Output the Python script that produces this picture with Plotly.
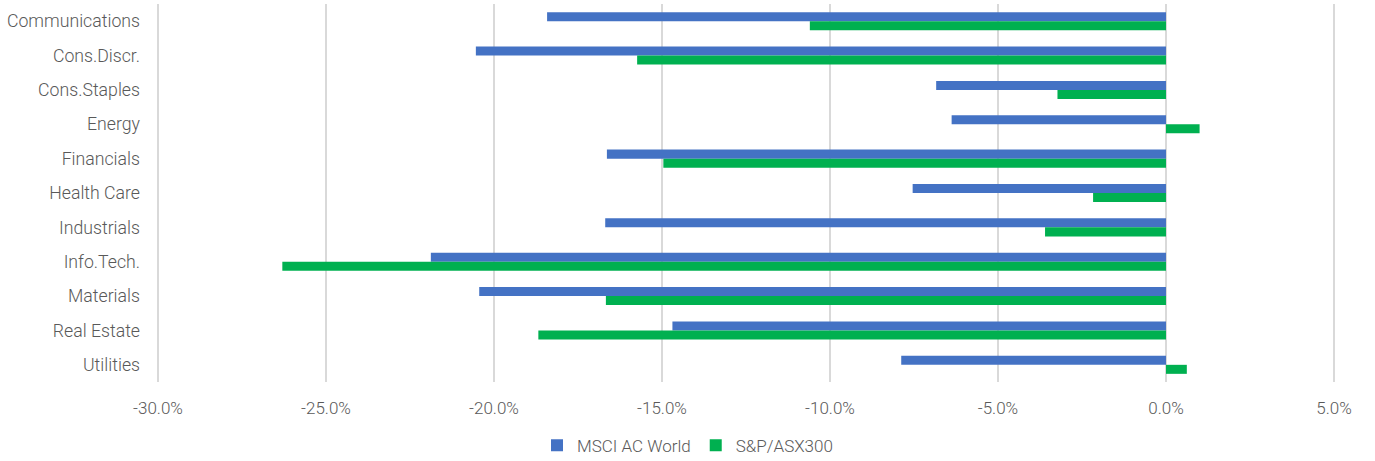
import plotly.graph_objects as go

# Sector returns (%), MSCI AC World vs S&P/ASX300
sectors = [
    "Communications", "Cons.Discr.", "Cons.Staples", "Energy", "Financials",
    "Health Care", "Industrials", "Info.Tech.", "Materials", "Real Estate", "Utilities",
]
msci_ac_world = [-18.42, -20.54, -6.84, -6.38, -16.64, -7.54, -16.69, -21.88, -20.44, -14.69, -7.88]
sp_asx300 = [-10.60, -15.74, -3.23, 1.00, -14.96, -2.17, -3.60, -26.30, -16.67, -18.68, 0.62]

x_ticks = [-30, -25, -20, -15, -10, -5, 0, 5]
x_tick_text = ["-30.0%", "-25.0%", "-20.0%", "-15.0%", "-10.0%", "-5.0%", "0.0%", "5.0%"]

text_color = "#595959"
font_family = "Roboto"

fig = go.Figure()
fig.add_trace(go.Bar(
    y=sectors, x=msci_ac_world, orientation="h", name="MSCI AC World",
    marker=dict(color="#4472C4", line=dict(width=0)),
))
fig.add_trace(go.Bar(
    y=sectors, x=sp_asx300, orientation="h", name="S&P/ASX300",
    marker=dict(color="#00B050", line=dict(width=0)),
))

fig.update_layout(
    width=1375, height=461,
    margin=dict(l=157, r=40, t=4, b=79),
    paper_bgcolor="white", plot_bgcolor="white",
    barmode="group", bargap=0.475, bargroupgap=0,
    font=dict(family=font_family, size=17, color=text_color, weight=300),
    showlegend=True,
    legend=dict(
        orientation="h", xref="container", yref="container",
        x=0.5, xanchor="center", y=0.033, yanchor="middle",
        font=dict(family=font_family, size=17, color=text_color, weight=300),
        itemwidth=30, traceorder="normal",
    ),
    xaxis=dict(
        range=[-30.03, 5.03], tickvals=x_ticks, ticktext=x_tick_text,
        showgrid=True, gridcolor="#D9D9D9", gridwidth=2,
        zeroline=False, showline=False, ticks="",
        ticklabelstandoff=14,
        tickfont=dict(family=font_family, size=17, color=text_color, weight=300),
    ),
    yaxis=dict(
        autorange="reversed", showgrid=False, zeroline=False, showline=False,
        ticks="", ticklabelstandoff=16,
        tickfont=dict(family=font_family, size=17.7, color=text_color, weight=300),
    ),
)

fig.write_html("out.html")
